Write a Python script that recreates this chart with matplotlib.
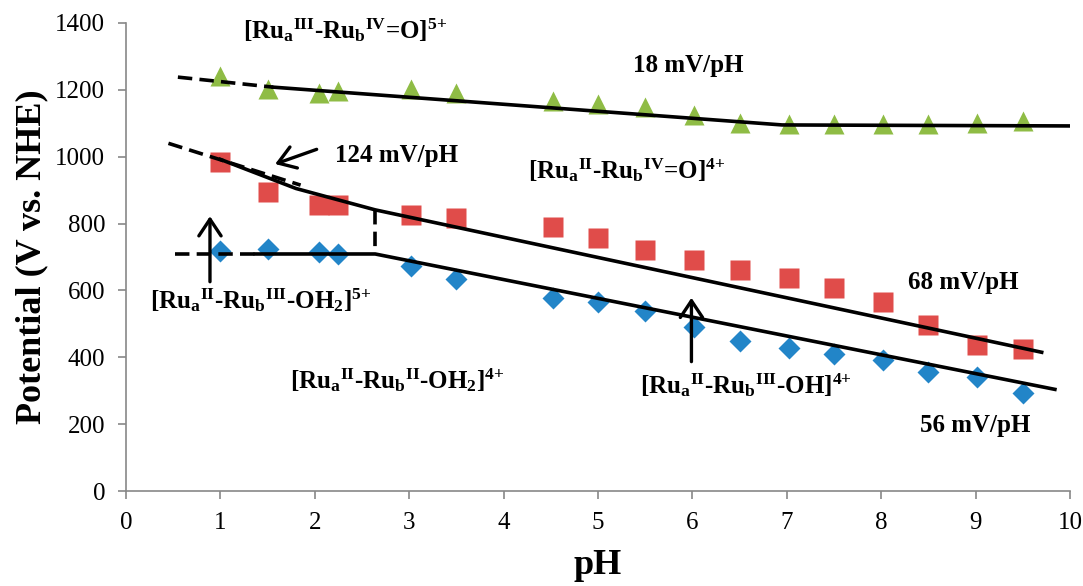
import numpy as np
import matplotlib
matplotlib.use("Agg")
import matplotlib.pyplot as plt

# Datos
ph = [1, 1.5, 2.05, 2.25, 3.02, 3.5, 4.52, 5, 5.5, 6.02, 6.5, 7.02, 7.5, 8.02, 8.5, 9.02, 9.5]
e_verde = [1241, 1202, 1190, 1196, 1202, 1190, 1167, 1157, 1148, 1125, 1101, 1098, 1098, 1098, 1098, 1101, 1107]
e_rojo = [984, 894, 855, 855, 826, 817, 790, 757, 721, 691, 661, 637, 607, 565, 497, 437, 425]
e_azul = [718, 724, 715, 709, 673, 634, 577, 565, 538, 491, 449, 428, 410, 392, 356, 341, 293]

# Lineas de ajuste (ph, mV)
sup_dash_x = [0.55, 1.56]
sup_dash_y = [1238, 1208]
sup_x = [1.56, 6.95, 10.0]
sup_y = [1208, 1095, 1092]

med_dash_x = [0.45, 1.85]
med_dash_y = [1040, 915]
med_x = [1.0, 1.8, 2.64, 9.70]
med_y = [992, 905, 841, 415]

inf_dash_x = [0.52, 1.37]
inf_dash_y = [709, 709]
inf_x = [1.37, 2.64, 9.84]
inf_y = [709, 709, 304]

vert_x = [2.64, 2.64]
vert_y = [841, 712]

plt.rcParams['font.family'] = ['Liberation Serif', 'DejaVu Serif']
plt.rcParams['mathtext.fontset'] = 'custom'
plt.rcParams['mathtext.rm'] = 'Liberation Serif:bold'
plt.rcParams['mathtext.it'] = 'Liberation Serif:bold'
plt.rcParams['mathtext.bf'] = 'Liberation Serif:bold'

fig = plt.figure(figsize=(10.83, 5.86), dpi=100)
ax = fig.add_axes([0.1163, 0.1621, 0.8717, 0.7987])

ax.plot(ph, e_verde, '^', color='#8FBC45', ms=15, mec='none', zorder=2)
ax.plot(ph, e_rojo, 's', color='#E04C4A', ms=14, mec='none', zorder=2)
ax.plot(ph, e_azul, 'D', color='#2285C8', ms=11, mec='none', zorder=2)

lw = 2.6
dash = (0, (4, 2))
ax.plot(sup_dash_x, sup_dash_y, color='black', lw=lw, ls=dash, zorder=3)
ax.plot(sup_x, sup_y, color='black', lw=lw, zorder=3)
ax.plot(med_dash_x, med_dash_y, color='black', lw=lw, ls=dash, zorder=3)
ax.plot(med_x, med_y, color='black', lw=lw, zorder=3)
ax.plot(inf_dash_x, inf_dash_y, color='black', lw=lw, ls=dash, zorder=3)
ax.plot(inf_x, inf_y, color='black', lw=lw, zorder=3)
ax.plot(vert_x, vert_y, color='black', lw=lw, ls=dash, zorder=3)

# Flechas
flecha = dict(arrowstyle='->, head_length=0.3, head_width=0.2', color='black', lw=2.4,
              mutation_scale=40, shrinkA=0, shrinkB=0)
ax.annotate('', xy=(0.89, 822), xytext=(0.89, 626), arrowprops=flecha)
ax.annotate('', xy=(5.99, 578), xytext=(5.99, 387), arrowprops=flecha)
ax.annotate('', xy=(1.58, 978), xytext=(2.02, 1022), arrowprops=flecha)

fs = 18
ax.text(1.24, 1379, r'[Ru$_a$$^{III}$-Ru$_b$$^{IV}$=O]$^{5{+}}$', fontsize=fs, fontweight='bold', va='center')
ax.text(5.96, 1274, '18 mV/pH', fontsize=fs, fontweight='bold', va='center', ha='center')
ax.text(2.21, 1005, '124 mV/pH', fontsize=fs, fontweight='bold', va='center')
ax.text(4.26, 960, r'[Ru$_a$$^{II}$-Ru$_b$$^{IV}$=O]$^{4{+}}$', fontsize=fs, fontweight='bold', va='center')
ax.text(8.28, 625, '68 mV/pH', fontsize=fs, fontweight='bold', va='center')
ax.text(0.25, 571, r'[Ru$_a$$^{II}$-Ru$_b$$^{III}$-OH$_2$]$^{5{+}}$', fontsize=fs, fontweight='bold', va='center')
ax.text(1.74, 332, r'[Ru$_a$$^{II}$-Ru$_b$$^{II}$-OH$_2$]$^{4{+}}$', fontsize=fs, fontweight='bold', va='center')
ax.text(5.44, 317, r'[Ru$_a$$^{II}$-Ru$_b$$^{III}$-OH]$^{4{+}}$', fontsize=fs, fontweight='bold', va='center')
ax.text(8.41, 197, '56 mV/pH', fontsize=fs, fontweight='bold', va='center')

ax.set_xlim(0, 10)
ax.set_ylim(0, 1400)
ax.set_xticks(range(0, 11))
ax.set_yticks(range(0, 1401, 200))
ax.spines['top'].set_visible(False)
ax.spines['right'].set_visible(False)
for s in ['left', 'bottom']:
    ax.spines[s].set_color('#888888')
    ax.spines[s].set_linewidth(1.2)
ax.tick_params(direction='out', length=6, width=1.2, color='#888888', labelsize=18, pad=9)

ax.set_xlabel('pH', fontsize=26, fontweight='bold', labelpad=11)
ax.set_ylabel('Potential (V vs. NHE)', fontsize=26, fontweight='bold', labelpad=5)

fig.savefig('out.png', dpi=100)
